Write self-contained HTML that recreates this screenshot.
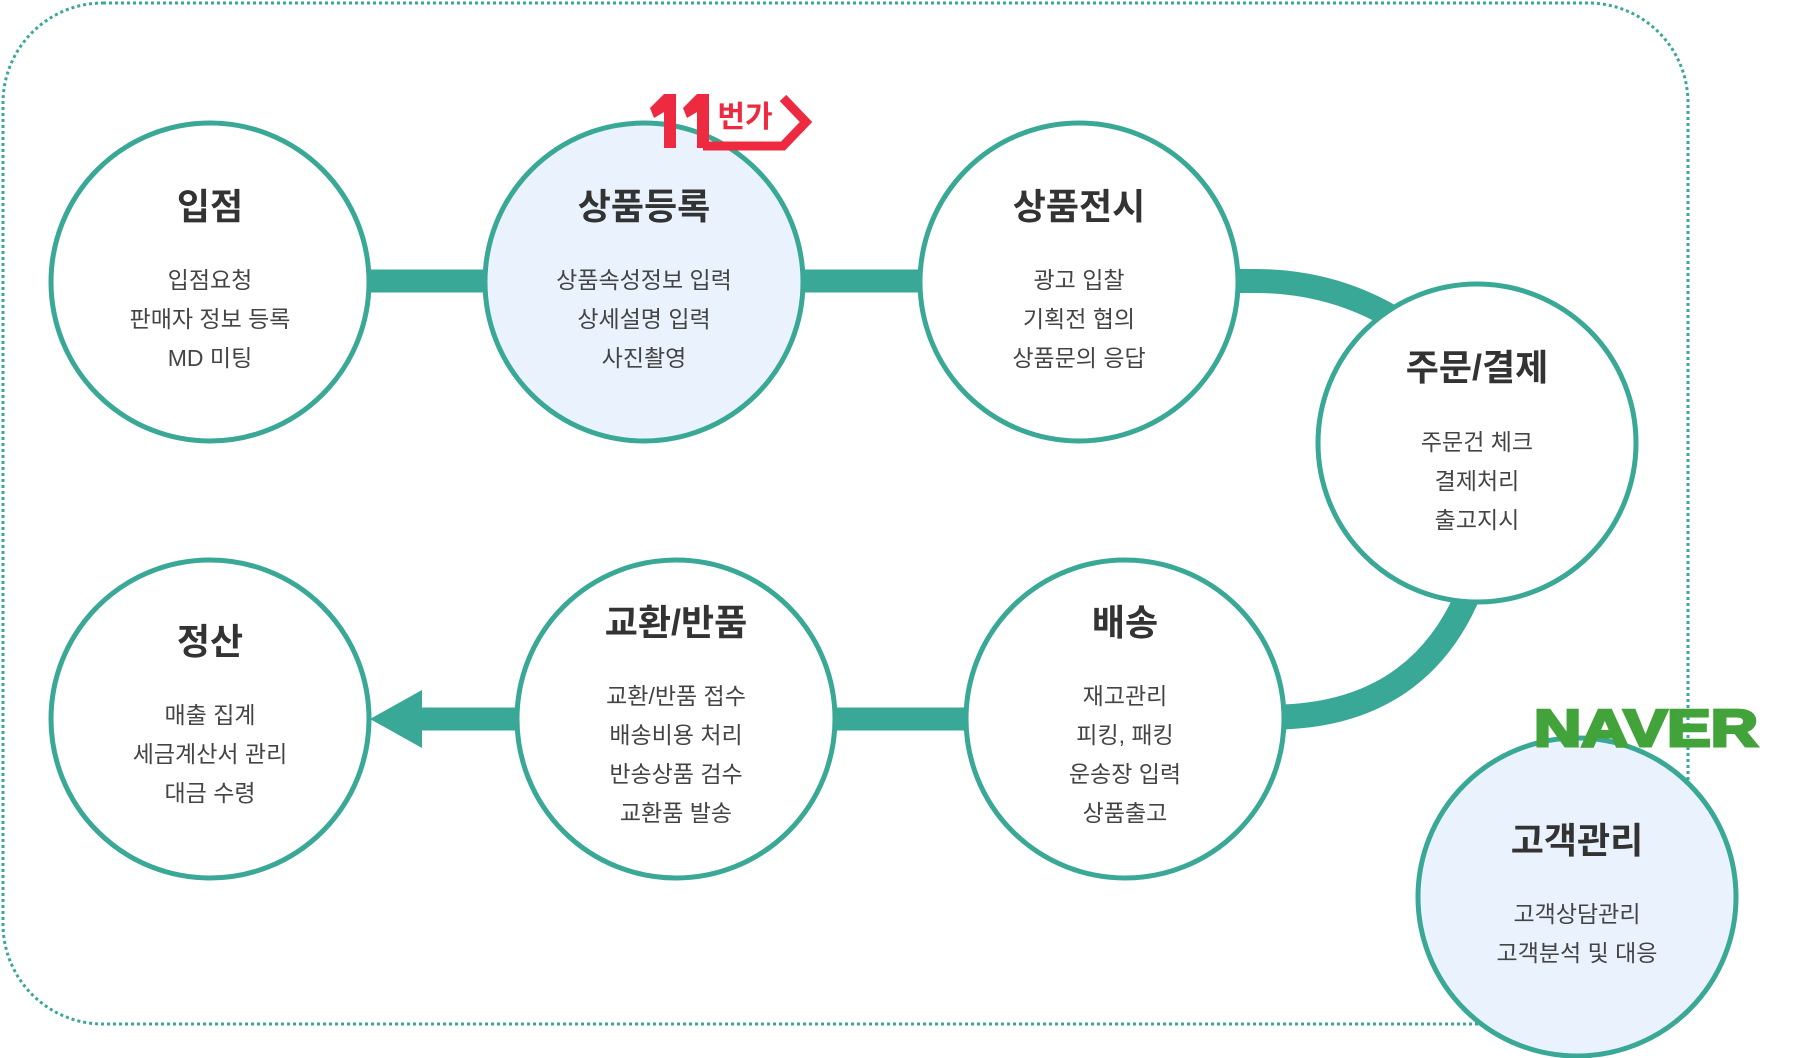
<!DOCTYPE html>
<html><head><meta charset="utf-8"><style>
html,body{margin:0;padding:0;background:#fff;}
svg{display:block}
text{font-family:"Liberation Sans","Noto Sans CJK KR",sans-serif;fill:#333;text-anchor:middle}
.t{font-size:36px;font-weight:bold;fill:#333}
.b{font-size:23px;fill:#444}
</style></head><body>
<svg width="1804" height="1058" viewBox="0 0 1804 1058" xmlns="http://www.w3.org/2000/svg">
<rect x="3" y="3" width="1685" height="1021" rx="100" ry="100" fill="none" stroke="#3aa896" stroke-width="3" stroke-dasharray="3,3"/>
<g stroke="#3aa896" fill="none">
<line x1="370" y1="281" x2="490" y2="281" stroke-width="23"/>
<line x1="800" y1="281" x2="925" y2="281" stroke-width="23"/>
<path d="M1235,281 L1255,281 Q1335,281 1400,322" stroke-width="24"/>
<path d="M1470,590 Q1420,712 1283,717" stroke-width="25"/>
<line x1="830" y1="719" x2="970" y2="719" stroke-width="23"/>
<line x1="415" y1="719" x2="520" y2="719" stroke-width="23"/>
</g>
<polygon points="370,719 422,690 422,748" fill="#3aa896"/>
<g stroke="#3aa896" stroke-width="5">
<circle cx="210" cy="282" r="159" fill="#fff"/>
<circle cx="644" cy="282" r="159" fill="#eaf3fd"/>
<circle cx="1079" cy="282" r="159" fill="#fff"/>
<circle cx="1477" cy="443" r="159" fill="#fff"/>
<circle cx="1125" cy="719" r="159" fill="#fff"/>
<circle cx="676" cy="719" r="159" fill="#fff"/>
<circle cx="210" cy="719" r="159" fill="#fff"/>
<circle cx="1577" cy="897" r="159" fill="#eaf3fd"/>
</g>
<text class="t" x="210" y="219">입점</text>
<text class="b" x="210" y="288">입점요청</text>
<text class="b" x="210" y="327">판매자 정보 등록</text>
<text class="b" x="210" y="366">MD 미팅</text>
<text class="t" x="644" y="219">상품등록</text>
<text class="b" x="644" y="288">상품속성정보 입력</text>
<text class="b" x="644" y="327">상세설명 입력</text>
<text class="b" x="644" y="366">사진촬영</text>
<text class="t" x="1079" y="219">상품전시</text>
<text class="b" x="1079" y="288">광고 입찰</text>
<text class="b" x="1079" y="327">기획전 협의</text>
<text class="b" x="1079" y="366">상품문의 응답</text>
<text class="t" x="1477" y="380">주문/결제</text>
<text class="b" x="1477" y="450">주문건 체크</text>
<text class="b" x="1477" y="489">결제처리</text>
<text class="b" x="1477" y="528">출고지시</text>
<text class="t" x="1125" y="635">배송</text>
<text class="b" x="1125" y="704">재고관리</text>
<text class="b" x="1125" y="743">피킹, 패킹</text>
<text class="b" x="1125" y="782">운송장 입력</text>
<text class="b" x="1125" y="821">상품출고</text>
<text class="t" x="676" y="635">교환/반품</text>
<text class="b" x="676" y="704">교환/반품 접수</text>
<text class="b" x="676" y="743">배송비용 처리</text>
<text class="b" x="676" y="782">반송상품 검수</text>
<text class="b" x="676" y="821">교환품 발송</text>
<text class="t" x="210" y="654">정산</text>
<text class="b" x="210" y="723">매출 집계</text>
<text class="b" x="210" y="762">세금계산서 관리</text>
<text class="b" x="210" y="801">대금 수령</text>
<text class="t" x="1577" y="853">고객관리</text>
<text class="b" x="1577" y="922">고객상담관리</text>
<text class="b" x="1577" y="961">고객분석 및 대응</text>
<!-- 11번가 logo -->
<g fill="#ee2a40">
<polygon points="650,108 664,94 676,94 676,148 664,148 664,112 654,118"/>
<polygon points="683,108 697,94 709,94 709,148 697,148 697,112 687,118"/>
</g>
<polyline points="703,146 783,146 806,122 783,98" fill="none" stroke="#ee2a40" stroke-width="9" stroke-linejoin="miter"/>
<text x="745" y="127" style="font-size:30px;font-weight:bold;fill:#ee2a40">번가</text>
<!-- NAVER -->
<text x="1646" y="746" style="font-size:52px;font-weight:900;fill:#43a33b;stroke:#43a33b;stroke-width:3;font-family:'Liberation Sans',sans-serif" textLength="224" lengthAdjust="spacingAndGlyphs">NAVER</text>
</svg>
</body></html>
